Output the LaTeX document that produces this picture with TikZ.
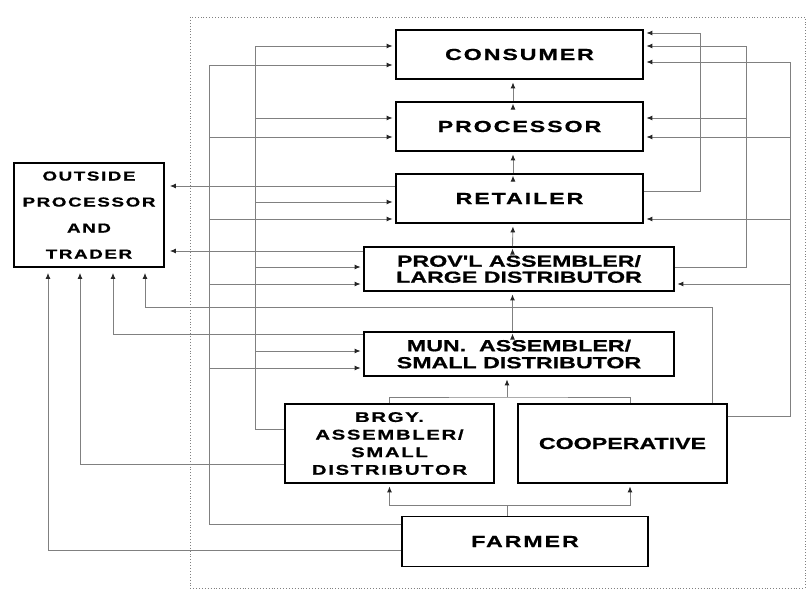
\documentclass[tikz,border=0pt]{standalone}
\usepackage{fontspec}
\newfontfamily\boxfont{Liberation Sans}[FakeStretch=1.45, LetterSpace=0, BoldFeatures={FakeBold=0.8}]
\newfontfamily\widefont{Liberation Sans}[FakeStretch=1.45, LetterSpace=12, BoldFeatures={FakeBold=0.8}]
\usetikzlibrary{arrows.meta}

\tikzset{
    box/.style  = {draw, line width=1.8pt, align=center, inner sep=0pt,
                   font=\boxfont\bfseries\fontsize{16}{16}\selectfont},
    wide/.style = {font=\widefont\bfseries\fontsize{16}{16}\selectfont},
    link/.style = {draw=black!50, line width=0.9pt},
    flow/.style = {link, -{Latex[length=6pt, width=5pt, color=black!85]}, shorten >=2.5pt},
}

\begin{document}
\begin{tikzpicture} [x=1pt, y=-1pt]
    \useasboundingbox (0,0) rectangle (808,591);
    \draw [black!50, dotted, line width=0.9pt] (190,17) rectangle (805,588);

    \node (con)  [box, wide, minimum width=247, minimum height=49] at (519.5,54.5)  {CONSUMER};
    \node (pro)  [box, wide, minimum width=247, minimum height=49] at (519.5,126.5) {PROCESSOR};
    \node (ret)  [box, wide, minimum width=247, minimum height=49] at (519.5,198.5) {RETAILER};
    \node (prov) [box, minimum width=310, minimum height=44] at (519,269) {PROV'L ASSEMBLER/\\LARGE DISTRIBUTOR};
    \node (mun)  [box, minimum width=310, minimum height=44, font=\boxfont\bfseries\fontsize{16}{17}\selectfont]
                 at (519,354) {MUN.~ ASSEMBLER/\\SMALL DISTRIBUTOR};
    \node (brgy) [box, minimum width=209, minimum height=79, font=\widefont\bfseries\fontsize{14}{17.6}\selectfont]
                 at (389.5,443.5) {BRGY.\\ASSEMBLER/\\SMALL\\DISTRIBUTOR};
    \node (coop) [box, minimum width=209, minimum height=79] at (622.5,443.5) {COOPERATIVE};
    \node (farm) [box, wide, minimum width=246, minimum height=50] at (525,541.5) {FARMER};
    \node (out)  [box, minimum width=150, minimum height=104, font=\widefont\bfseries\fontsize{13}{26}\selectfont]
                 at (89,215) {OUTSIDE\\PROCESSOR\\AND\\TRADER};

    % up the chain
    \foreach \a/\b in {pro/con, ret/pro, prov/ret, mun/prov}
        \path [flow] ([xshift=-6.5pt]\a.north) edge ([xshift=-6.5pt]\b.south);

    % brgy and coop to mun
    \coordinate (jm) at (507,397);
    \draw [link] (brgy.north) |- (jm) -| ([xshift=7.5pt]coop.north);
    \draw [flow] (jm) -- (jm |- mun.south);

    % farmer to brgy and coop
    \coordinate (jf) at (507,505);
    \draw [link] (jf |- farm.north) -- (jf);
    \draw [flow] (jf) -| (brgy.south);
    \draw [flow] (jf) -| ([xshift=7.5pt]coop.south);

    % farmer bus
    \coordinate (fb) at (209,524);
    \foreach \t/\dy in {con/-10.5, pro/-10.5, ret/-20.5, prov/-15, mun/-14}
        \draw [flow] ([yshift=17pt]farm.west) -| (fb) |- ([yshift=\dy pt]\t.west);
    \draw [flow, shorten >=5pt] ([yshift=-9pt]farm.west) -| ([xshift=-41pt]out.south);

    % brgy bus
    \coordinate (bb) at (255,429);
    \foreach \t/\dy in {con/8.5, pro/8.5, ret/-3.5, prov/2, mun/3}
        \draw [flow] ([yshift=14.5pt]brgy.west) -| (bb) |- ([yshift=\dy pt]\t.west);
    \draw [flow, shorten >=5pt] ([yshift=-20.5pt]brgy.west) -| ([xshift=-9pt]out.south);

    % coop bus
    \coordinate (cb) at (790,416);
    \foreach \t/\dy in {con/-7.5, pro/-10.5, ret/-20.5, prov/-15}
        \draw [flow] ([yshift=27.5pt]coop.east) -| (cb) |- ([yshift=\dy pt]\t.east);
    \coordinate (co) at (712,307);
    \draw [flow, shorten >=5pt] (co |- coop.north) -- (co) -| ([xshift=56pt]out.south);

    % prov bus
    \coordinate (pb) at (746,267);
    \foreach \t in {con, pro}
        \draw [flow] ([yshift=2pt]prov.east) -| (pb) |- ([yshift=8.5pt]\t.east);
    \draw [flow, shorten >=5pt] ([yshift=18pt]prov.west) -- ([yshift=18pt]prov.west -| out.east);

    % retailer
    \coordinate (rb) at (700,191);
    \draw [flow] ([yshift=7.5pt]ret.east) -| (rb) |- ([yshift=21.5pt]con.east);
    \draw [flow, shorten >=5pt] ([yshift=12.5pt]ret.west) -- ([yshift=12.5pt]ret.west -| out.east);

    % mun
    \draw [flow, shorten >=5pt] ([yshift=20pt]mun.west) -| ([xshift=24pt]out.south);

\end{tikzpicture}
\end{document}
